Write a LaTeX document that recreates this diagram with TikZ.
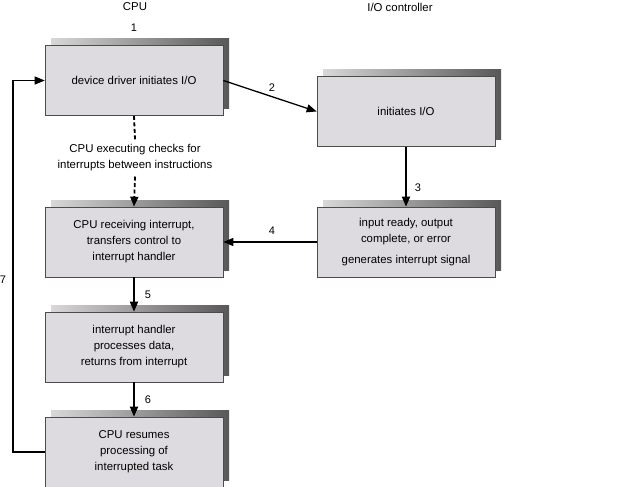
\documentclass[tikz,border=0pt]{standalone}
\usepackage{fontspec}
\setmainfont{Liberation Sans}
\usetikzlibrary{arrows.meta,shadows}
\definecolor{boxgray}{RGB}{221,219,224}
\definecolor{shadelight}{RGB}{216,216,216}
\definecolor{shadedark}{RGB}{88,88,88}

\begin{document}
\begin{tikzpicture}[
  x=1pt, y=-1pt,
  font=\fontsize{11.4}{16}\selectfont,
  box/.style={rectangle, draw=black!70, fill=boxgray, line width=0.6pt,
    minimum width=178pt, minimum height=70pt, align=center,
    general shadow={shadow xshift=6pt, shadow yshift=7pt,
      left color=shadelight, right color=shadedark}},
  flow/.style={line width=1.3pt, -{Triangle[length=10pt,width=8pt]}},
  vflow/.style={flow, line width=1.8pt},
  dashflow/.style={vflow, dash pattern=on 4pt off 2.5pt},
  num/.style={font=\fontsize{11}{13}\selectfont},
]
\useasboundingbox (0,0) rectangle (640,487);

% Column headers
\node (hcpu) at (135, 7) {CPU};
\node (hio) at (400, 7) {I/O controller};
\node[num] (n1) at (134, 28) {1};

% CPU side
\node[box] (drv) at (134, 80.5) {device driver initiates I/O};
\node[inner sep=5pt, align=center] (chk) at (135, 158)
  {CPU executing checks for\\interrupts between instructions};
\node[box] (recv) at (134, 242) {CPU receiving interrupt,\\transfers control to\\interrupt handler};
\node[box] (hdl) at (134, 347) {interrupt handler\\processes data,\\returns from interrupt};
\node[box] (res) at (134, 452) {CPU resumes\\processing of\\interrupted task};

% I/O controller side
\node[box] (ctl) at (406, 111.5) {initiates I/O};
\node[box] (sig) at (406, 242) {input ready, output\\complete, or error\\[5pt]generates interrupt signal};

% Connectors
\draw[flow] (drv.east) -- (ctl.west);
\draw[vflow] (ctl.south) -- (sig.north);
\draw[flow] (sig.west) -- (recv.east);
\draw[dashflow, -] (drv.south) -- (chk.north);
\draw[dashflow] (chk.south) -- (recv.north);
\draw[vflow] (recv.south) -- (hdl.north);
\draw[vflow] (hdl.south) -- (res.north);
\coordinate (lp) at (13, 452);
\draw[flow] (res.west) -- (lp) |- (drv.west);

% Step numbers
\node[num] (n2) at (272, 88) {2};
\node[num] (n3) at (418, 188) {3};
\node[num] (n4) at (272, 231) {4};
\node[num] (n5) at (148, 295) {5};
\node[num] (n6) at (148, 400) {6};
\node[num] (n7) at (3, 280) {7};

\end{tikzpicture}
\end{document}
